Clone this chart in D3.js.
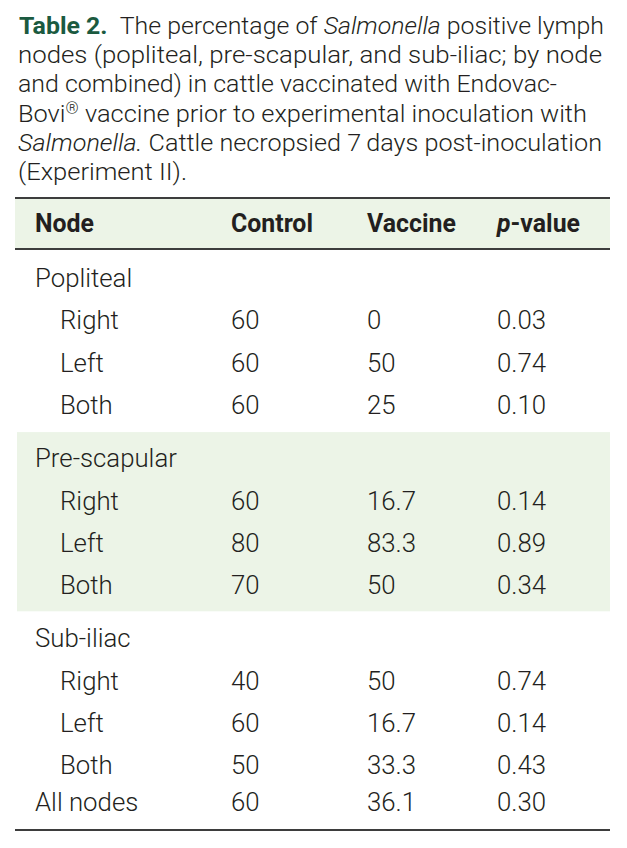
<!DOCTYPE html>
<html><head><meta charset="utf-8">
<script src="https://cdn.jsdelivr.net/npm/d3@7"></script>
<style>
html,body{margin:0;padding:0;background:#fff;}
svg{display:block;}
</style></head>
<body>
<svg id="c" width="627" height="848"></svg>
<script>
// ---- data ----
const titleLead = "Table 2.";
const titleLines = [
  [{t:"The percentage of "},{t:"Salmonella",i:true},{t:" positive lymph"}],
  [{t:"nodes (popliteal, pre-scapular, and sub-iliac; by node"}],
  [{t:"and combined) in cattle vaccinated with Endovac-"}],
  [{t:"Bovi"},{t:"®",sup:true},{t:" vaccine prior to experimental inoculation with"}],
  [{t:"Salmonella.",i:true},{t:" Cattle necropsied 7\u2009days post-inoculation"}],
  [{t:"(Experiment II)."}]
];
const columns = ["Node","Control","Vaccine","p-value"];
const groups = ["Popliteal","Pre-scapular","Sub-iliac"];
const sides = ["Right","Left","Both"];
const controlVals = [60,60,60, 60,80,70, 40,60,50];
const vaccineVals = ["0","50","25", "16.7","83.3","50", "50","16.7","33.3"];
const pValues = ["0.03","0.74","0.10", "0.14","0.89","0.34", "0.74","0.14","0.43"];
const allLabel = "All nodes";
const allControl = 60, allVaccine = "36.1", allP = "0.30";

// ---- styles ----
const FONT = "Roboto, 'Noto Sans', sans-serif";
const TXT = "#231f20", GREEN = "#1b5a40", BAND = "#ecf4e7", RULE = "#3d3d3d";
const svg = d3.select("#c");
const L = 15, R = 610;

function measure(str, size, weight, style){
  const t = svg.append("text").attr("font-family",FONT).attr("font-size",size)
    .attr("font-weight",weight||400).attr("font-style",style||"normal").text(str);
  const w = t.node().getComputedTextLength(); t.remove(); return w;
}

// ---- title ----
const tSize = 24.5;
const lineLeft = [19,18,18,18,18,18];
const lineRight = [604,602,557,587,602,187];
const titleG = svg.append("g");
titleLines.forEach((segs, li) => {
  const txt = titleG.append("text").attr("x", lineLeft[li]).attr("y", 34 + li*29.2)
    .attr("font-family",FONT).attr("font-size",tSize).attr("fill",TXT).attr("font-weight",300);
  if (li===0) {
    txt.append("tspan").attr("fill",GREEN).attr("font-weight",700).text(titleLead);
    txt.append("tspan").text("\u00a0\u00a0");
  }
  segs.forEach(s => {
    const sp = txt.append("tspan").text(s.t);
    if (s.i) sp.attr("font-style","italic");
    if (s.sup) sp.attr("font-size",tSize*0.65).attr("dy",-8);
    else if (li===3 && s.t.startsWith(" vaccine")) sp.attr("dy",8);
  });
  txt.attr("textLength", lineRight[li]-lineLeft[li]).attr("lengthAdjust","spacingAndGlyphs");
});

// ---- table layout ----
const xCol = d3.scaleOrdinal().domain(columns).range([35,231,367,497]);
const indent = 25;
const bSize = 22 * (142 / measure("Pre-scapular", 22, 300));
const hSize = 22 * (82 / measure("Control", 22, 700));

const rows = [];
groups.forEach((g, gi) => {
  rows.push({label:g, head:true, group:gi});
  sides.forEach((s, si) => {
    const k = gi*3+si;
    rows.push({label:s, group:gi, c:controlVals[k], v:vaccineVals[k], p:pValues[k]});
  });
});
rows.push({label:allLabel, all:true, c:allControl, v:allVaccine, p:allP});

const step = 42.4;
let y = 287;
rows.forEach((r,i) => {
  if (i>0) {
    if (r.head) y += step + 10.5;
    else if (r.all) y += 37;
    else y += step;
  }
  r.y = y;
});

const g1 = rows.filter(r => r.group===1);
svg.append("rect").attr("x",L+2).attr("width",R-L-2)
  .attr("y", d3.min(g1, r=>r.y) - 35).attr("height", d3.max(g1, r=>r.y) - d3.min(g1, r=>r.y) + 52)
  .attr("fill",BAND);

svg.append("rect").attr("x",L).attr("y",198).attr("width",R-L).attr("height",51).attr("fill",BAND);
svg.append("line").attr("x1",L).attr("x2",R).attr("y1",198).attr("y2",198).attr("stroke",RULE).attr("stroke-width",2);
svg.append("line").attr("x1",L).attr("x2",R).attr("y1",249).attr("y2",249).attr("stroke",RULE).attr("stroke-width",2);
const hdr = svg.append("g").selectAll("text").data(columns).join("text")
  .attr("x", d=>xCol(d)).attr("y",232)
  .attr("font-family",FONT).attr("font-size",hSize).attr("font-weight",700).attr("fill",TXT);
hdr.each(function(d){
  const t = d3.select(this);
  if (d.startsWith("p-")) {
    t.append("tspan").attr("font-style","italic").text("p");
    t.append("tspan").text(d.slice(1));
  } else t.text(d);
});

const body = svg.append("g").attr("font-family",FONT).attr("font-size",bSize)
  .attr("font-weight",300).attr("fill",TXT);
body.selectAll("text.lab").data(rows).join("text").attr("class","lab")
  .attr("x", r => xCol("Node") + ((r.head||r.all)?0:indent)).attr("y", r=>r.y).text(r=>r.label);
const valRows = rows.filter(r => !r.head);
[["Control","c"],["Vaccine","v"],["p-value","p"]].forEach(([col,key]) => {
  body.selectAll("text.v"+key).data(valRows).join("text").attr("class","v"+key)
    .attr("x", xCol(col)).attr("y", r=>r.y).text(r=>r[key]);
});

svg.append("line").attr("x1",L).attr("x2",R).attr("y1",830).attr("y2",830).attr("stroke",RULE).attr("stroke-width",2);
</script>
</body></html>
